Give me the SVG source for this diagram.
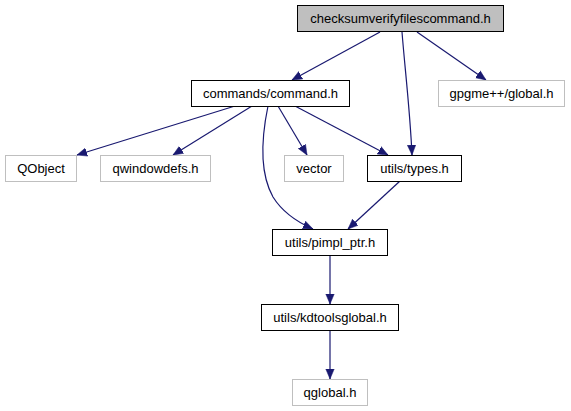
<svg xmlns="http://www.w3.org/2000/svg" width="571" height="411" viewBox="0 0 571 411">
<defs>
<style>
.n rect{fill:#fff;stroke:#000;stroke-width:1}
.n.ext rect{stroke:#bfbfbf}
.n.root rect{fill:#bfbfbf;stroke:#000}
.n text{font-family:"Liberation Sans",Arial,sans-serif;font-size:13px;text-anchor:middle;fill:#000}
.e path{fill:none;stroke:#191970;stroke-width:1.2}
</style>
<marker id="ah" viewBox="0 0 10 10" refX="10" refY="5" markerWidth="10" markerHeight="10" markerUnits="userSpaceOnUse" orient="auto">
<path d="M0,0.8 L10,5 L0,9.2 z" fill="#191970" stroke="#191970" stroke-width="0.5"/>
</marker>
</defs>
<rect width="571" height="411" fill="#fff"/>
<g id="edges" class="e">
<path d="M380,32 L292,80" marker-end="url(#ah)"/>
<path d="M402,32 C405,70 410,110 412,155" marker-end="url(#ah)"/>
<path d="M417,32 L486,80" marker-end="url(#ah)"/>
<path d="M235,106 L77,155" marker-end="url(#ah)"/>
<path d="M252,106 L173,155" marker-end="url(#ah)"/>
<path d="M268,106 C262,135 259,172 273,197 C283,213 297,222 313,229" marker-end="url(#ah)"/>
<path d="M278,106 L307,155" marker-end="url(#ah)"/>
<path d="M295,106 L388,155" marker-end="url(#ah)"/>
<path d="M400,181 L348,229" marker-end="url(#ah)"/>
<path d="M330,255 L330,304" marker-end="url(#ah)"/>
<path d="M330,330 L330,379" marker-end="url(#ah)"/>
</g>
<g id="n_root" class="n root"><rect x="297.5" y="5.5" width="206" height="26"/><text x="400.5" y="23">checksumverifyfilescommand.h</text></g>
<g id="n_command" class="n"><rect x="191.5" y="80.5" width="158" height="26"/><text x="270.5" y="98">commands/command.h</text></g>
<g id="n_gpgme" class="n ext"><rect x="438.5" y="80.5" width="126" height="26"/><text x="501.5" y="98">gpgme++/global.h</text></g>
<g id="n_qobject" class="n ext"><rect x="5.5" y="155.5" width="71" height="26"/><text x="41" y="173">QObject</text></g>
<g id="n_qwindowdefs" class="n ext"><rect x="100.5" y="155.5" width="110" height="26"/><text x="155.5" y="173">qwindowdefs.h</text></g>
<g id="n_vector" class="n ext"><rect x="284.5" y="155.5" width="59" height="26"/><text x="314" y="173">vector</text></g>
<g id="n_types" class="n"><rect x="367.5" y="155.5" width="94" height="26"/><text x="414.5" y="173">utils/types.h</text></g>
<g id="n_pimpl" class="n"><rect x="272.5" y="229.5" width="115" height="26"/><text x="330" y="247">utils/pimpl_ptr.h</text></g>
<g id="n_kdtools" class="n"><rect x="261.5" y="304.5" width="137" height="26"/><text x="330" y="322">utils/kdtoolsglobal.h</text></g>
<g id="n_qglobal" class="n ext"><rect x="292.5" y="379.5" width="75" height="26"/><text x="330" y="397">qglobal.h</text></g>
</svg>
